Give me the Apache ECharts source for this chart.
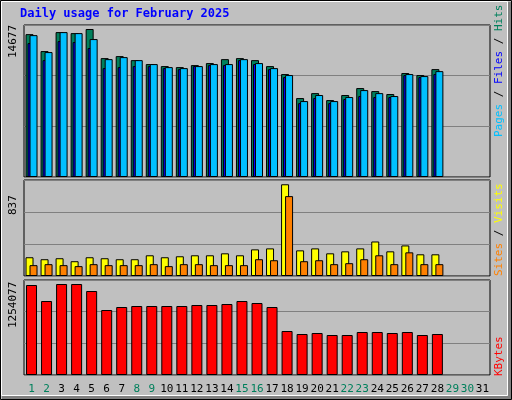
<!DOCTYPE html>
<html>
<head>
<meta charset="utf-8">
<script src="https://cdn.jsdelivr.net/npm/echarts@6/dist/echarts.min.js"></script>
<style>
  html, body { margin: 0; padding: 0; background: #fff; }
  #graficoDiario { width: 512px; height: 400px; }
</style>
</head>
<body>
<div id="graficoDiario"></div>
<script>
// dados do grafico
var dias = ["1","2","3","4","5","6","7","8","9","10","11","12","13","14","15","16","17","18","19","20","21","22","23","24","25","26","27","28","29","30","31"];
var fimDeSemana = ["1","2","8","9","15","16","22","23","29","30"];

var hits = [14170,12490,14370,14270,14677,11790,11990,11590,11200,11000,10900,11100,11300,11690,11790,11590,11000,10210,7830,8320,7630,8130,8820,8520,8230,10310,10110,10700];
var files = [13280,11590,13480,13380,12790,10800,10900,11000,11000,10800,10700,11000,11100,11100,11590,11200,10700,9910,7330,7830,7330,7730,8030,7930,7930,10110,9910,10210];
var pages = [14070,12390,14370,14270,13680,11690,11890,11590,11200,10900,10800,11000,11200,11200,11690,11300,10800,10110,7530,8130,7530,7930,8620,8320,8030,10210,10010,10500];

var visits = [171,153,162,135,171,162,153,153,189,171,180,189,189,207,189,243,252,837,234,252,207,225,252,315,225,279,198,198];
var sites = [99,108,99,90,108,99,99,99,108,90,108,108,99,99,99,153,144,729,135,144,108,117,153,189,108,216,108,108];

var kbytes = [1240380,1019870,1254077,1254077,1157690,895830,937180,950960,950960,950960,950960,964740,964740,978520,1019870,992300,937180,606410,565060,578840,551280,551280,592630,592630,578840,592630,551280,565060];

var maxTopo = 15075, maxMeio = 876, maxBaixo = 1309300;

var fonte = "DejaVu Sans Mono";
var borda = { borderColor: "#000", borderWidth: 1 };

function eixoY(idx, max) {
    return {
        gridIndex: idx, min: 0, max: max, interval: max / 3,
        axisLabel: { show: false }, axisLine: { show: false }, axisTick: { show: false },
        splitLine: { lineStyle: { color: "#808080", width: 1 } }
    };
}
function eixoX(idx, labels) {
    return {
        gridIndex: idx, type: "category", data: dias,
        axisLine: { show: false }, axisTick: { show: false },
        axisLabel: labels ? {
            interval: 0, margin: 9, fontFamily: fonte, fontSize: 11,
            color: function (v) { return fimDeSemana.indexOf(v) >= 0 ? "#00805C" : "#000"; }
        } : { show: false }
    };
}
function gridBase(top, height) {
    return { left: 24, width: 466, top: top, height: height, show: true,
             backgroundColor: "#C0C0C0", borderColor: "#000", borderWidth: 1 };
}

var myChart = echarts.init(document.getElementById("graficoDiario"));

var option = {
    backgroundColor: "#C0C0C0",
    animation: false,
    grid: [gridBase(25, 152), gridBase(180, 96), gridBase(280, 95)],
    xAxis: [eixoX(0, false), eixoX(1, false), eixoX(2, true)],
    yAxis: [eixoY(0, maxTopo), eixoY(1, maxMeio), eixoY(2, maxBaixo)],
    series: [
        { name: "Hits", type: "bar", xAxisIndex: 0, yAxisIndex: 0, data: hits,
          barWidth: 8, barGap: "-75%", itemStyle: Object.assign({ color: "#00805C" }, borda) },
        { name: "Files", type: "bar", xAxisIndex: 0, yAxisIndex: 0, data: files,
          barWidth: 8, barGap: "-75%", itemStyle: Object.assign({ color: "#0000FF" }, borda) },
        { name: "Pages", type: "bar", xAxisIndex: 0, yAxisIndex: 0, data: pages,
          barWidth: 8, barGap: "-75%", itemStyle: Object.assign({ color: "#00C0FF" }, borda) },
        { name: "Visits", type: "bar", xAxisIndex: 1, yAxisIndex: 1, data: visits,
          barWidth: 8, barGap: "-50%", itemStyle: Object.assign({ color: "#FFFF00" }, borda) },
        { name: "Sites", type: "bar", xAxisIndex: 1, yAxisIndex: 1, data: sites,
          barWidth: 8, barGap: "-50%", itemStyle: Object.assign({ color: "#FF8000" }, borda) },
        { name: "KBytes", type: "bar", xAxisIndex: 2, yAxisIndex: 2, data: kbytes,
          barWidth: 11, itemStyle: Object.assign({ color: "#FF0000" }, borda) }
    ],
    graphic: [
        { type: "rect", shape: { x: 0.5, y: 0.5, width: 511, height: 399 },
          style: { fill: null, stroke: "#000", lineWidth: 1 }, silent: true },
        { type: "rect", shape: { x: 1.5, y: 1.5, width: 506, height: 394 },
          style: { fill: null, stroke: "#fff", lineWidth: 1 }, silent: true },
        { type: "rect", shape: { x: 508, y: 2, width: 3, height: 397 }, style: { fill: "#808080" }, silent: true },
        { type: "rect", shape: { x: 2, y: 396, width: 509, height: 3 }, style: { fill: "#808080" }, silent: true },
        { type: "text", left: 20, top: 8,
          style: { text: "Daily usage for February 2025", fill: "#0000FF",
                   font: "bold 12px '" + fonte + "'" } },
        { type: "text", x: 8, y: 58, rotation: Math.PI / 2,
          style: { text: "14677", fill: "#000", font: "11px '" + fonte + "'" } },
        { type: "text", x: 8, y: 215, rotation: Math.PI / 2,
          style: { text: "837", fill: "#000", font: "11px '" + fonte + "'" } },
        { type: "text", x: 8, y: 328, rotation: Math.PI / 2,
          style: { text: "1254077", fill: "#000", font: "11px '" + fonte + "'" } },
        { type: "text", x: 494, y: 137, rotation: Math.PI / 2,
          style: { text: "{p|Pages} / {f|Files} / {h|Hits}", fill: "#000",
                   font: "11px '" + fonte + "'",
                   rich: { p: { fill: "#00C0FF", font: "11px '" + fonte + "'" },
                           f: { fill: "#0000FF", font: "11px '" + fonte + "'" },
                           h: { fill: "#00805C", font: "11px '" + fonte + "'" } } } },
        { type: "text", x: 494, y: 276, rotation: Math.PI / 2,
          style: { text: "{s|Sites} / {v|Visits}", fill: "#000",
                   font: "11px '" + fonte + "'",
                   rich: { s: { fill: "#FF8000", font: "11px '" + fonte + "'" },
                           v: { fill: "#FFFF00", font: "11px '" + fonte + "'" } } } },
        { type: "text", x: 494, y: 376, rotation: Math.PI / 2,
          style: { text: "KBytes", fill: "#FF0000", font: "11px '" + fonte + "'" } }
    ]
};

myChart.setOption(option);
</script>
</body>
</html>
